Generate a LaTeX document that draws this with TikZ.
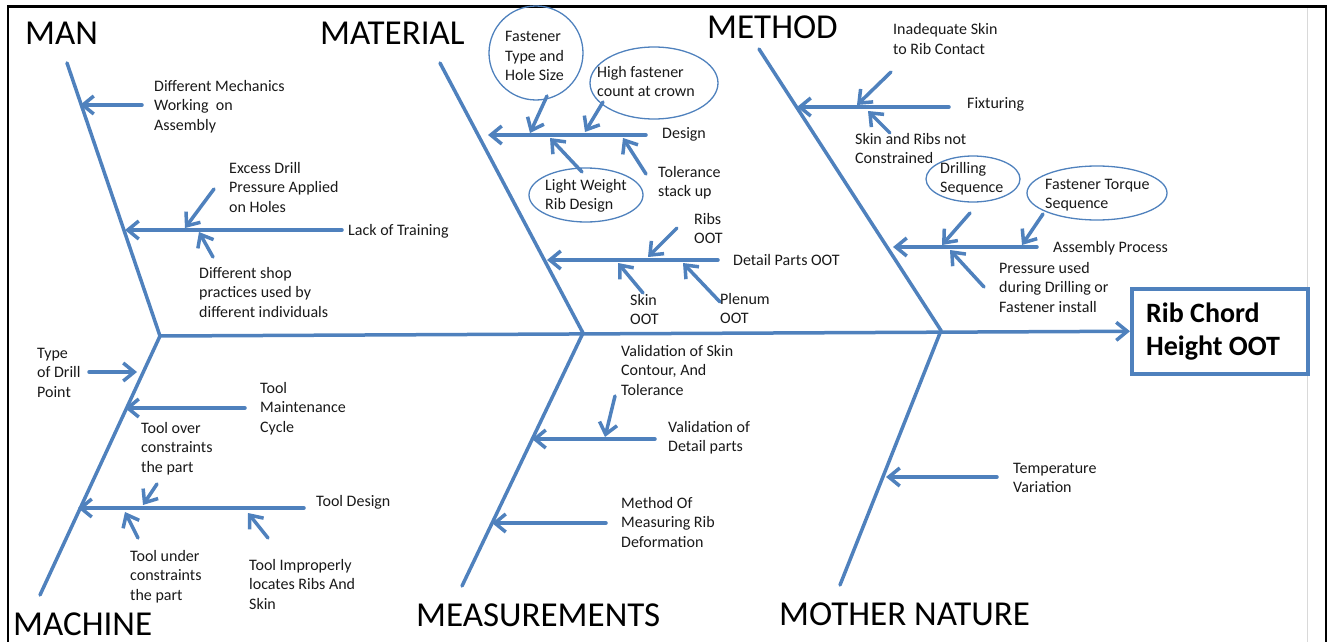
\documentclass[tikz,border=0pt]{standalone}
\usepackage{fontspec}
\setmainfont{Carlito}
\usetikzlibrary{arrows.meta,shapes.geometric}
\definecolor{bonec}{HTML}{4F81BD}
\begin{document}
\begin{tikzpicture}[x=1pt,y=-1pt,
  bone/.style={draw=bonec, line width=3.5pt, line cap=round, line join=round},
  rib/.style={bone, -{Straight Barb[length=11pt,width=18pt]}},
  lbl/.style={font=\fontsize{16}{19.5}\selectfont, align=left, anchor=base west, inner sep=0pt, text=black!90},
  cat/.style={font=\fontsize{35}{40}\selectfont, anchor=base west, inner sep=0pt},
  oval/.style={draw=bonec, line width=1.3pt, ellipse, inner sep=0pt},
  effbox/.style={draw=bonec, line width=3.5pt, rectangle, inner sep=0pt}]
\useasboundingbox (0,0) rectangle (1330,642);
% outer frame
\draw[black!15, line width=0.8pt] (1307,8) -- (1307,642);
\draw[black, line width=2.2pt] (8,642) -- (8,6.5) -- (1326,6.5) -- (1326,642);

% effect box
\node[effbox, minimum width=176pt, minimum height=85pt, anchor=north west] (eff) at (1130,287) {};
\node[font=\fontsize{28}{33}\selectfont\bfseries, align=left, anchor=base west, inner sep=0pt] (efft) at (1146,355) {Rib Chord\\Height OOT};

% bone coordinates
\coordinate (manT) at (67,63);
\coordinate (J1) at (160,336);
\coordinate (macB) at (40,595);
\coordinate (matT) at (440,63);
\coordinate (J2) at (583,333);
\coordinate (meaB) at (462,586);
\coordinate (metT) at (759,49);
\coordinate (J3) at (941,330.5);
\coordinate (motB) at (840,585);

% main bones
\draw[bone] (manT) -- (J1) -- (macB);
\draw[bone] (matT) -- (J2) -- (meaB);
\draw[bone] (metT) -- (J3) -- (motB);
\draw[rib] (J1) -- (eff.west);

% category labels
\node[cat] (lman) at (25,45) {MAN};
\node[cat] (lmat) at (320,45) {MATERIAL};
\node[cat] (lmet) at (707,38) {METHOD};
\node[cat] (lmac) at (13,635) {MACHINE};
\node[cat] (lmea) at (416,626) {MEASUREMENTS};
\node[cat] (lmot) at (779,625) {MOTHER NATURE};

% ---------------- MAN
\coordinate (a1s) at (142,105); \coordinate (a1e) at (80,105);
\coordinate (a2s) at (342,230); \coordinate (a2e) at (125,230);
\coordinate (a3s) at (214,189); \coordinate (a3e) at (185,228);
\coordinate (a4s) at (213,257); \coordinate (a4e) at (199,232);
\draw[rib] (a1s) -- (a1e);
\draw[rib] (a2s) -- (a2e);
\draw[rib] (a3s) -- (a3e);
\draw[rib] (a4s) -- (a4e);
\node[lbl] (ta1) at (154,130) {Different Mechanics\\Working\ \ on\\Assembly};
\node[lbl] (ta2) at (348,235) {Lack of Training};
\node[lbl] (ta3) at (229,212) {Excess Drill\\Pressure Applied\\on Holes};
\node[lbl] (ta4) at (199,317) {Different shop\\practices used by\\different individuals};

% ---------------- MACHINE
\coordinate (b1s) at (89,372); \coordinate (b1e) at (137,372);
\coordinate (b2s) at (245,408); \coordinate (b2e) at (125,408);
\coordinate (b3s) at (304,508); \coordinate (b3e) at (78,508);
\coordinate (b4s) at (157,484); \coordinate (b4e) at (143,505);
\coordinate (b5s) at (138,538); \coordinate (b5e) at (125,512);
\coordinate (b6s) at (268,538); \coordinate (b6e) at (248,513);
\draw[rib] (b1s) -- (b1e);
\draw[rib] (b2s) -- (b2e);
\draw[rib] (b3s) -- (b3e);
\draw[rib] (b4s) -- (b4e);
\draw[rib] (b5s) -- (b5e);
\draw[rib] (b6s) -- (b6e);
\node[lbl] (tb1) at (37,397) {Type\\of Drill\\Point};
\node[lbl] (tb2) at (260,432) {Tool\\Maintenance\\Cycle};
\node[lbl] (tb3) at (316,506) {Tool Design};
\node[lbl] (tb4) at (141,472) {Tool over\\constraints\\the part};
\node[lbl] (tb5) at (130,600) {Tool under\\constraints\\the part};
\node[lbl] (tb6) at (249,609) {Tool Improperly\\locates Ribs And\\Skin};

% ---------------- MATERIAL
\node[oval, minimum width=94pt, minimum height=94pt] (fc) at (536,53) {};
\node[oval, minimum width=128pt, minimum height=72pt] (hf) at (654,83) {};
\node[oval, minimum width=114pt, minimum height=54pt] (lw) at (586,195) {};
\coordinate (c1s) at (646,135); \coordinate (c1e) at (488,135);
\coordinate (c2s) at (547,96);  \coordinate (c2e) at (530,133);
\coordinate (c3s) at (603,102); \coordinate (c3e) at (585,132);
\coordinate (c4s) at (582,172); \coordinate (c4e) at (550,138);
\coordinate (c5s) at (646,174); \coordinate (c5e) at (623,138);
\coordinate (c6s) at (718,260); \coordinate (c6e) at (547,260);
\coordinate (c7s) at (677,228); \coordinate (c7e) at (648,257);
\coordinate (c8s) at (643,293); \coordinate (c8e) at (618,263);
\coordinate (c9s) at (720,302); \coordinate (c9e) at (683,263);
\draw[rib] (c1s) -- (c1e);
\draw[rib] (c2s) -- (c2e);
\draw[rib] (c3s) -- (c3e);
\draw[rib] (c4s) -- (c4e);
\draw[rib] (c5s) -- (c5e);
\draw[rib] (c6s) -- (c6e);
\draw[rib] (c7s) -- (c7e);
\draw[rib] (c8s) -- (c8e);
\draw[rib] (c9s) -- (c9e);
\node[lbl] (tc1) at (662,138) {Design};
\node[lbl] (tc2) at (505,81) {Fastener\\Type and\\Hole Size};
\node[lbl] (tc3) at (597,96.5) {High fastener\\count at crown};
\node[lbl] (tc4) at (545,209.5) {Light Weight\\Rib Design};
\node[lbl] (tc5) at (658,196.5) {Tolerance\\stack up};
\node[lbl] (tc6) at (733,265) {Detail Parts OOT};
\node[lbl] (tc7) at (694,243.5) {Ribs\\OOT};
\node[lbl] (tc8) at (630,324.5) {Skin\\OOT};
\node[lbl] (tc9) at (720,323.5) {Plenum\\OOT};

% ---------------- METHOD
\node[oval, minimum width=94pt, minimum height=46pt] (ds) at (973,179) {};
\node[oval, minimum width=140pt, minimum height=54pt] (ft) at (1097,193) {};
\coordinate (d1s) at (949,107); \coordinate (d1e) at (797,107);
\coordinate (d2s) at (891,72);  \coordinate (d2e) at (857,105);
\coordinate (d3s) at (890,133); \coordinate (d3e) at (868,111);
\coordinate (d4s) at (1037,247); \coordinate (d4e) at (893,247);
\coordinate (d5s) at (970,213); \coordinate (d5e) at (942,245);
\coordinate (d6s) at (1043,214); \coordinate (d6e) at (1022,245);
\coordinate (d7s) at (984,287); \coordinate (d7e) at (950,250);
\draw[rib] (d1s) -- (d1e);
\draw[rib] (d2s) -- (d2e);
\draw[rib] (d3s) -- (d3e);
\draw[rib] (d4s) -- (d4e);
\draw[rib] (d5s) -- (d5e);
\draw[rib] (d6s) -- (d6e);
\draw[rib] (d7s) -- (d7e);
\node[lbl] (td1) at (967,108) {Fixturing};
\node[lbl] (td2) at (893,54.5) {Inadequate Skin\\to Rib Contact};
\node[lbl] (td3) at (855,163.5) {Skin and Ribs not\\Constrained};
\node[lbl] (td4) at (1053,252) {Assembly Process};
\node[lbl] (td5) at (940,192.5) {Drilling\\Sequence};
\node[lbl] (td6) at (1045,208.5) {Fastener Torque\\Sequence};
\node[lbl] (td7) at (999,312) {Pressure used\\during Drilling or\\Fastener install};

% ---------------- MEASUREMENTS
\coordinate (e1s) at (655,439); \coordinate (e1e) at (532,439);
\coordinate (e2s) at (615,396); \coordinate (e2e) at (605,437);
\coordinate (e3s) at (606,523); \coordinate (e3e) at (492,523);
\draw[rib] (e1s) -- (e1e);
\draw[rib] (e2s) -- (e2e);
\draw[rib] (e3s) -- (e3e);
\node[lbl] (te1) at (668,451.5) {Validation of\\Detail parts};
\node[lbl] (te2) at (621,395) {Validation of Skin\\Contour, And\\Tolerance};
\node[lbl] (te3) at (621,547) {Method Of\\Measuring Rib\\Deformation};

% ---------------- MOTHER NATURE
\coordinate (f1s) at (997,477); \coordinate (f1e) at (886,477);
\draw[rib] (f1s) -- (f1e);
\node[lbl] (tf1) at (1013,492.5) {Temperature\\Variation};
\end{tikzpicture}
\end{document}
